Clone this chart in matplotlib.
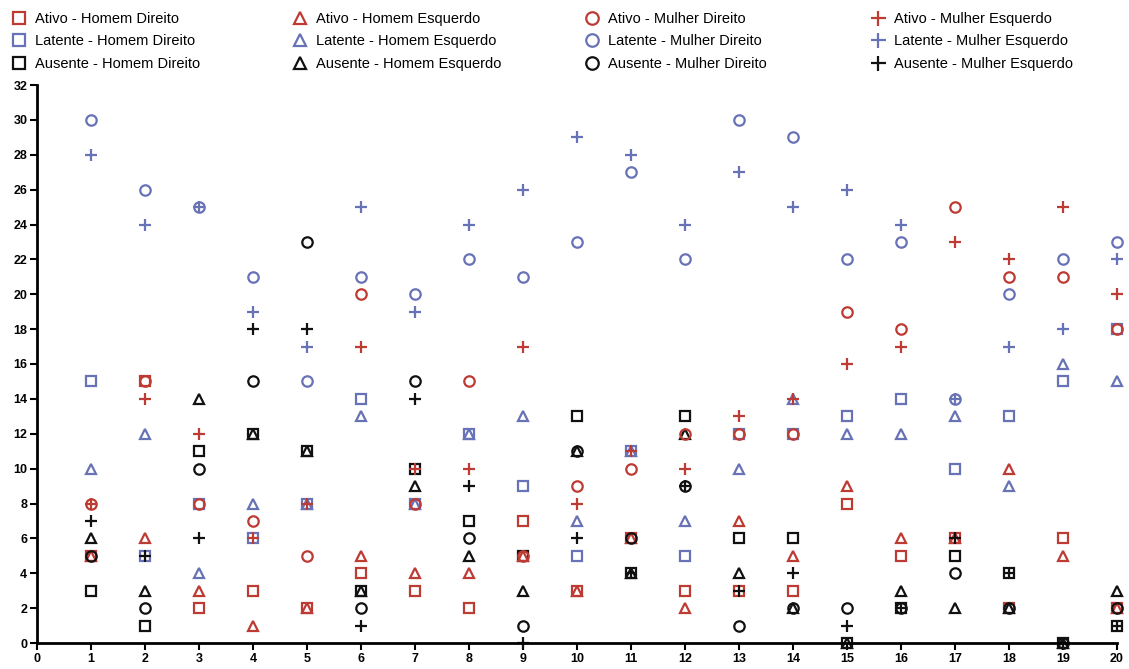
import numpy as np
import matplotlib.pyplot as plt
from matplotlib.lines import Line2D

plt.rcParams['font.family'] = ['Liberation Sans', 'DejaVu Sans']

# =========================
# data
# =========================
x_vals = list(range(1, 21))

ativo_homem_dir = [5, 15, 2, 3, 2, 4, 3, 2, 7, 3, 6, 3, 3, 3, 8, 5, 6, 2, 6, 2]
ativo_homem_esq = [5, 6, 3, 1, 2, 5, 4, 4, 5, 3, 6, 2, 7, 5, 9, 6, 6, 10, 5, 2]
ativo_mulher_dir = [8, 15, 8, 7, 5, 20, 8, 15, 5, 9, 10, 12, 12, 12, 19, 18, 25, 21, 21, 18]
ativo_mulher_esq = [8, 14, 12, 6, 8, 17, 10, 10, 17, 8, 11, 10, 13, 14, 16, 17, 23, 22, 25, 20]

latente_homem_dir = [15, 5, 8, 6, 8, 14, 8, 12, 9, 5, 11, 5, 12, 12, 13, 14, 10, 13, 15, 18]
latente_homem_esq = [10, 12, 4, 8, 8, 13, 8, 12, 13, 7, 11, 7, 10, 14, 12, 12, 13, 9, 16, 15]
latente_mulher_dir = [30, 26, 25, 21, 15, 21, 20, 22, 21, 23, 27, 22, 30, 29, 22, 23, 14, 20, 22, 23]
latente_mulher_esq = [28, 24, 25, 19, 17, 25, 19, 24, 26, 29, 28, 24, 27, 25, 26, 24, 14, 17, 18, 22]

ausente_homem_dir = [3, 1, 11, 12, 11, 3, 10, 7, 5, 13, 4, 13, 6, 6, 0, 2, 5, 4, 0, 1]
ausente_homem_esq = [6, 3, 14, 12, 11, 3, 9, 5, 3, 11, 4, 12, 4, 2, 0, 3, 2, 2, 0, 3]
ausente_mulher_dir = [5, 2, 10, 15, 23, 2, 15, 6, 1, 11, 6, 9, 1, 2, 2, 2, 4, 2, 0, 2]
ausente_mulher_esq = [7, 5, 6, 18, 18, 1, 14, 9, 0, 6, 4, 9, 3, 4, 1, 2, 6, 4, 0, 1]

RED = '#bd3b33'
BLUE = '#6872b6'
BLACK = '#111111'

# (label, values, marker, color) -- ordered column-wise for the legend
series = [
    ("Ativo - Homem Direito", ativo_homem_dir, 's', RED),
    ("Latente - Homem Direito", latente_homem_dir, 's', BLUE),
    ("Ausente - Homem Direito", ausente_homem_dir, 's', BLACK),
    ("Ativo - Homem Esquerdo", ativo_homem_esq, '^', RED),
    ("Latente - Homem Esquerdo", latente_homem_esq, '^', BLUE),
    ("Ausente - Homem Esquerdo", ausente_homem_esq, '^', BLACK),
    ("Ativo - Mulher Direito", ativo_mulher_dir, 'o', RED),
    ("Latente - Mulher Direito", latente_mulher_dir, 'o', BLUE),
    ("Ausente - Mulher Direito", ausente_mulher_dir, 'o', BLACK),
    ("Ativo - Mulher Esquerdo", ativo_mulher_esq, '+', RED),
    ("Latente - Mulher Esquerdo", latente_mulher_esq, '+', BLUE),
    ("Ausente - Mulher Esquerdo", ausente_mulher_esq, '+', BLACK),
]

fig = plt.figure(figsize=(11.29, 6.69), dpi=100)
ax = fig.add_axes([37 / 1129, 1 - 643 / 669, (1117 - 37) / 1129, (643 - 85) / 669])

handles = []
for label, vals, mk, col in series:
    ms = 9 if mk == '+' else 7.5
    ax.plot(x_vals, vals, linestyle='none', marker=mk, markersize=ms,
            markerfacecolor='none', markeredgecolor=col, markeredgewidth=1.6,
            clip_on=False)
    handles.append(Line2D([], [], linestyle='none', marker=mk, markersize=ms,
                          markerfacecolor='none', markeredgecolor=col,
                          markeredgewidth=1.6, label=label))

ax.set_xlim(0, 20)
ax.set_ylim(0, 32)
ax.set_xticks(range(0, 21))
ax.set_yticks(range(0, 33, 2))
for s in ['top', 'right']:
    ax.spines[s].set_visible(False)
for s in ['left', 'bottom']:
    ax.spines[s].set_linewidth(2)
ax.tick_params(direction='out', length=5, width=1.5, labelsize=9, pad=2)
for t in ax.get_xticklabels() + ax.get_yticklabels():
    t.set_fontweight('bold')

# legend: one block per column
col_x = [4, 285, 577, 863]
for i, cx in enumerate(col_x):
    fig.legend(handles=handles[3 * i:3 * i + 3], loc='upper left',
               bbox_to_anchor=(cx / 1129, 1 - 6 / 669), frameon=False,
               fontsize=10.5, handletextpad=0.5, labelspacing=0.58,
               borderaxespad=0, handlelength=1.2, markerscale=1.2)

fig.savefig('out.png', dpi=100)
